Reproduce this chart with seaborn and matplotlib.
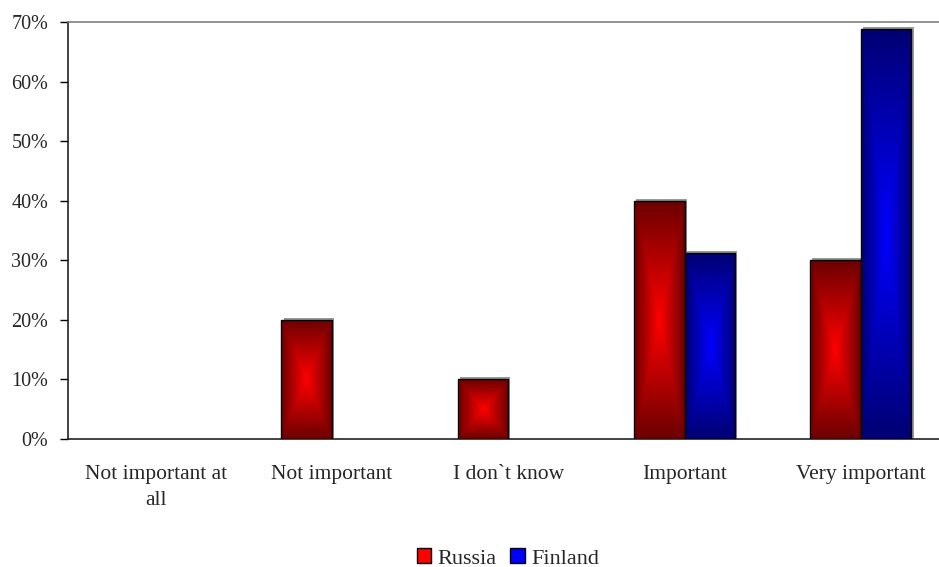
import numpy as np
import pandas as pd
import matplotlib
matplotlib.use("Agg")
import matplotlib.pyplot as plt
from matplotlib.patches import Patch
from matplotlib.ticker import PercentFormatter, FixedLocator
import seaborn as sns

categories = ["Not important at\nall", "Not important", "I don`t know", "Important", "Very important"]
countries = ["Russia", "Finland"]
russia = [0, 20, 10, 40, 30]
finland = [0, 0, 0, 31.25, 68.75]

df = pd.DataFrame({
    "category": categories * 2,
    "country": ["Russia"] * len(categories) + ["Finland"] * len(categories),
    "value": russia + finland,
})

sns.set_theme(style="white")
plt.rcParams["font.family"] = ["Liberation Serif", "DejaVu Serif"]

bright = {"Russia": (1.0, 0.0, 0.0), "Finland": (0.0, 0.0, 1.0)}
dark = {"Russia": (0.42, 0.0, 0.0), "Finland": (0.0, 0.0, 0.45)}

fig = plt.figure(figsize=(9.39, 5.67), dpi=100)
ax = fig.add_axes([0.0719, 0.2257, 0.9388, 0.7355])

sns.barplot(data=df, x="category", y="value", hue="country", hue_order=countries,
            palette=bright, width=0.573, edgecolor="black", linewidth=1.0,
            saturation=1, legend=False, ax=ax, zorder=3)

ax.set_xlim(-0.5, 4.5)
ax.set_ylim(0, 70)

# rectangular "from centre" gradient fill clipped to each bar
def gradient(c_in, c_out, n=200):
    u = np.linspace(-1, 1, n)
    U, V = np.meshgrid(u, u)
    t = np.maximum(np.abs(U), np.abs(V))[..., None]
    return (1 - t) * np.array(c_in) + t * np.array(c_out)

for container, name in zip(ax.containers, countries):
    img = gradient(bright[name], dark[name])
    for bar in container:
        h = bar.get_height()
        if h <= 0:
            bar.set_visible(False)
            continue
        x0, w = bar.get_x(), bar.get_width()
        # soft gray shadow offset to the upper right
        sh = plt.Rectangle((x0 + 0.012, 0), w, h + 0.35, facecolor="#9a9a9a",
                           edgecolor="none", zorder=2)
        ax.add_patch(sh)
        im = ax.imshow(img, extent=(x0, x0 + w, 0, h), aspect="auto",
                       origin="lower", zorder=3.5, interpolation="bilinear")
        im.set_clip_path(bar)
        bar.set_facecolor("none")
        bar.set_zorder(4)

ax.set_xlabel("")
ax.set_ylabel("")
ax.yaxis.set_major_locator(FixedLocator(np.arange(0, 71, 10)))
ax.yaxis.set_major_formatter(PercentFormatter(decimals=0))

ax.set_xticks(range(len(categories)))
ax.set_xticklabels(categories, fontsize=15.5, linespacing=1.5)
ax.set_xticks(np.arange(-0.5, 5, 1), minor=True)
ax.tick_params(axis="x", which="major", length=0, pad=19)
ax.tick_params(axis="x", which="minor", length=6, width=1, color="black", direction="out")
ax.tick_params(axis="y", length=6, width=1, color="black", direction="out",
               labelsize=14.5, pad=8, left=True)

for s in ["left", "bottom"]:
    ax.spines[s].set_color("#222222")
    ax.spines[s].set_linewidth(1.2)
ax.spines["top"].set_color("#808080")
ax.spines["top"].set_linewidth(1.2)
ax.spines["right"].set_visible(False)
ax.grid(False)

handles = [Patch(facecolor=bright[c], edgecolor="black", linewidth=1.0, label=c) for c in countries]
fig.legend(handles=handles, loc="center", bbox_to_anchor=(0.541, 0.015), ncol=2,
           frameon=False, fontsize=16, handlelength=0.65, handleheight=0.65,
           handletextpad=0.3, columnspacing=0.6, borderaxespad=0)

fig.savefig("out.png", dpi=100)
